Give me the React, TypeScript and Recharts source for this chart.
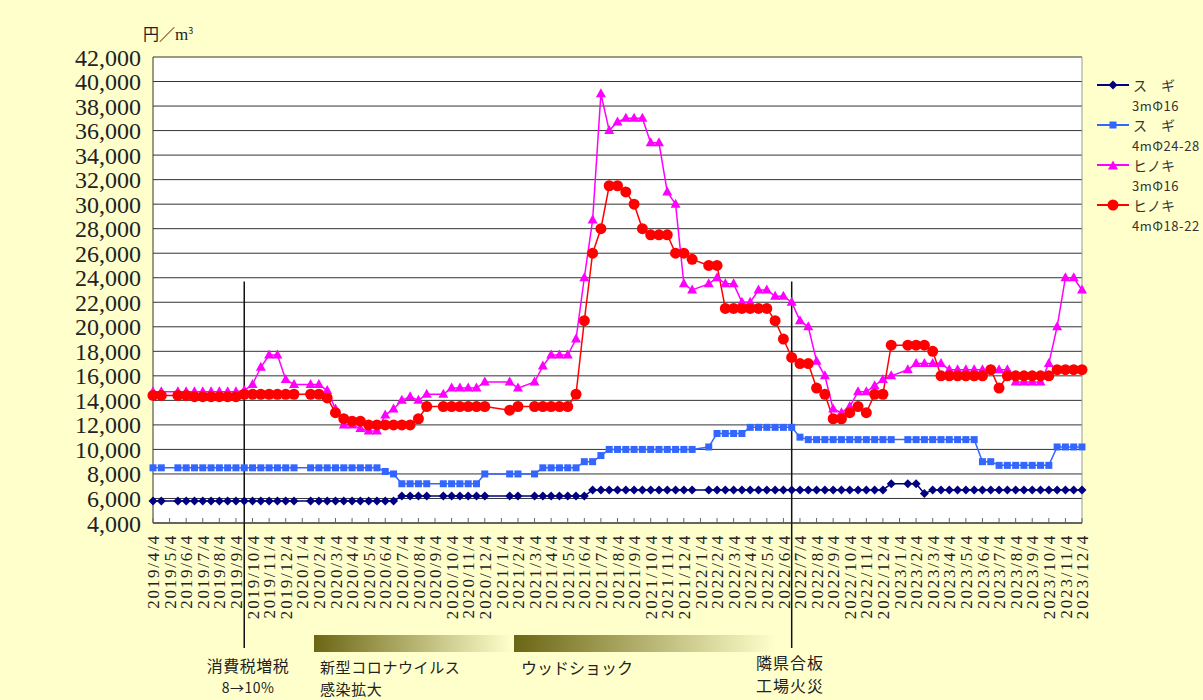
import React from "react";
import { LineChart, Line, XAxis, YAxis, CartesianGrid, ReferenceLine } from "recharts";

// 調査日（上旬・下旬）
const surveyDates = [
  // 2019
  "2019/4/4", "2019/4/19", "2019/5/19", "2019/6/4", "2019/6/19", "2019/7/4", "2019/7/19", "2019/8/4", "2019/8/19",
  "2019/9/4", "2019/9/19", "2019/10/4", "2019/10/19", "2019/11/4", "2019/11/19", "2019/12/4", "2019/12/19",
  // 2020
  "2020/1/19", "2020/2/4", "2020/2/19", "2020/3/4", "2020/3/19", "2020/4/4", "2020/4/19", "2020/5/4", "2020/5/19",
  "2020/6/4", "2020/6/19", "2020/7/4", "2020/7/19", "2020/8/4", "2020/8/19", "2020/9/19", "2020/10/4", "2020/10/19",
  "2020/11/4", "2020/11/19", "2020/12/4",
  // 2021
  "2021/1/19", "2021/2/4", "2021/3/4", "2021/3/19", "2021/4/4", "2021/4/19", "2021/5/4", "2021/5/19", "2021/6/4",
  "2021/6/19", "2021/7/4", "2021/7/19", "2021/8/4", "2021/8/19", "2021/9/4", "2021/9/19", "2021/10/4", "2021/10/19",
  "2021/11/4", "2021/11/19", "2021/12/4", "2021/12/19",
  // 2022
  "2022/1/19", "2022/2/4", "2022/2/19", "2022/3/4", "2022/3/19", "2022/4/4", "2022/4/19", "2022/5/4", "2022/5/19",
  "2022/6/4", "2022/6/19", "2022/7/4", "2022/7/19", "2022/8/4", "2022/8/19", "2022/9/4", "2022/9/19", "2022/10/4",
  "2022/10/19", "2022/11/4", "2022/11/19", "2022/12/4", "2022/12/19",
  // 2023
  "2023/1/19", "2023/2/4", "2023/2/19", "2023/3/4", "2023/3/19", "2023/4/4", "2023/4/19", "2023/5/4", "2023/5/19",
  "2023/6/4", "2023/6/19", "2023/7/4", "2023/7/19", "2023/8/4", "2023/8/19", "2023/9/4", "2023/9/19", "2023/10/4",
  "2023/10/19", "2023/11/4", "2023/11/19", "2023/12/4",
];

// スギ 3m Φ16
const sugi3m = [
  5800, 5800, 5800, 5800, 5800, 5800, 5800, 5800, 5800, 5800, 5800, 5800, 5800, 5800, 5800, 5800, 5800,
  5800, 5800, 5800, 5800, 5800, 5800, 5800, 5800, 5800, 5800, 5800, 6200, 6200, 6200, 6200, 6200, 6200, 6200,
  6200, 6200, 6200,
  6200, 6200, 6200, 6200, 6200, 6200, 6200, 6200, 6200, 6700, 6700, 6700, 6700, 6700, 6700, 6700, 6700, 6700,
  6700, 6700, 6700, 6700,
  6700, 6700, 6700, 6700, 6700, 6700, 6700, 6700, 6700, 6700, 6700, 6700, 6700, 6700, 6700, 6700, 6700, 6700,
  6700, 6700, 6700, 6700, 7200,
  7200, 7200, 6400, 6700, 6700, 6700, 6700, 6700, 6700, 6700, 6700, 6700, 6700, 6700, 6700, 6700, 6700, 6700,
  6700, 6700, 6700, 6700,
];

// スギ 4m Φ24-28
const sugi4m = [
  8500, 8500, 8500, 8500, 8500, 8500, 8500, 8500, 8500, 8500, 8500, 8500, 8500, 8500, 8500, 8500, 8500,
  8500, 8500, 8500, 8500, 8500, 8500, 8500, 8500, 8500, 8200, 8000, 7200, 7200, 7200, 7200, 7200, 7200, 7200,
  7200, 7200, 8000,
  8000, 8000, 8000, 8500, 8500, 8500, 8500, 8500, 9000, 9000, 9500, 10000, 10000, 10000, 10000, 10000, 10000,
  10000, 10000, 10000, 10000, 10000,
  10200, 11300, 11300, 11300, 11300, 11800, 11800, 11800, 11800, 11800, 11800, 11000, 10800, 10800, 10800,
  10800, 10800, 10800, 10800, 10800, 10800, 10800, 10800,
  10800, 10800, 10800, 10800, 10800, 10800, 10800, 10800, 10800, 9000, 9000, 8700, 8700, 8700, 8700, 8700,
  8700, 8700, 10200, 10200, 10200, 10200,
];

// ヒノキ 3m Φ16
const hinoki3m = [
  14700, 14700, 14700, 14700, 14700, 14700, 14700, 14700, 14700, 14700, 14800, 15300, 16700, 17700, 17700,
  15700, 15300,
  15300, 15300, 14800, 13300, 12000, 12000, 11700, 11500, 11500, 12800, 13300, 14000, 14300, 14000, 14500,
  14500, 15000, 15000, 15000, 15000, 15500,
  15500, 15000, 15500, 16800, 17700, 17700, 17700, 19000, 24000, 28700, 39000, 36000, 36700, 37000, 37000,
  37000, 35000, 35000, 31000, 30000, 23500, 23000,
  23500, 24000, 23500, 23500, 22000, 22000, 23000, 23000, 22500, 22500, 22000, 20500, 20000, 17200, 16000,
  13300, 13000, 13500, 14700, 14700, 15200, 15700, 16000,
  16500, 17000, 17000, 17000, 17000, 16500, 16500, 16500, 16500, 16500, 16500, 16500, 16500, 15500, 15500,
  15500, 15500, 17000, 20000, 24000, 24000, 23000,
];

// ヒノキ 4m Φ18-22
const hinoki4m = [
  14400, 14400, 14400, 14400, 14300, 14300, 14300, 14300, 14300, 14300, 14500, 14500, 14500, 14500, 14500,
  14500, 14500,
  14500, 14500, 14200, 13000, 12500, 12300, 12300, 12000, 12000, 12000, 12000, 12000, 12000, 12500, 13500,
  13500, 13500, 13500, 13500, 13500, 13500,
  13200, 13500, 13500, 13500, 13500, 13500, 13500, 14500, 20500, 26000, 28000, 31500, 31500, 31000, 30000,
  28000, 27500, 27500, 27500, 26000, 26000, 25500,
  25000, 25000, 21500, 21500, 21500, 21500, 21500, 21500, 20500, 19000, 17500, 17000, 17000, 15000, 14500,
  12500, 12500, 13000, 13500, 13000, 14500, 14500, 18500,
  18500, 18500, 18500, 18000, 16000, 16000, 16000, 16000, 16000, 16000, 16500, 15000, 16000, 16000, 16000,
  16000, 16000, 16000, 16500, 16500, 16500, 16500,
];

const yTicks = [4000, 6000, 8000, 10000, 12000, 14000, 16000, 18000, 20000, 22000, 24000, 26000, 28000, 30000,
  32000, 34000, 36000, 38000, 40000, 42000];

// 半月単位の位置 (2019/4/4 = 0)
const toSlot = (d: string) => {
  const [y, m, day] = d.split("/").map(Number);
  return (y - 2019) * 24 + (m - 4) * 2 + (day >= 15 ? 1 : 0);
};

const monthTicks: number[] = [];
for (let i = 0; i <= 112; i += 2) monthTicks.push(i);
const monthLabel = (slot: number) => {
  const k = slot / 2 + 3;
  return `${2019 + Math.floor(k / 12)}/${(k % 12) + 1}/4`;
};

const data = surveyDates.map((d, i) => ({
  x: toSlot(d),
  sugi3m: sugi3m[i],
  sugi4m: sugi4m[i],
  hinoki3m: hinoki3m[i],
  hinoki4m: hinoki4m[i],
}));

const NAVY = "#000080";
const BLUE = "#3366FF";
const PINK = "#FF00FF";
const RED = "#FF0000";

const Diamond = ({ cx, cy, fill }: any) => (
  <polygon points={`${cx},${cy - 4.5} ${cx + 4.5},${cy} ${cx},${cy + 4.5} ${cx - 4.5},${cy}`} fill={fill} />
);
const Square = ({ cx, cy, fill }: any) => <rect x={cx - 3.5} y={cy - 3.5} width={7} height={7} fill={fill} />;
const Triangle = ({ cx, cy, fill }: any) => (
  <polygon points={`${cx},${cy - 5.5} ${cx + 5},${cy + 3.5} ${cx - 5},${cy + 3.5}`} fill={fill} />
);
const Circle = ({ cx, cy, fill }: any) => <circle cx={cx} cy={cy} r={5.5} fill={fill} />;

const dotFor = (Shape: any, color: string) => (p: any) => (
  <Shape key={`dot-${p.index}`} cx={p.cx} cy={p.cy} fill={color} />
);

const MonthTick = ({ x, y, payload }: any) => (
  <g>
    <line x1={x} y1={y - 5} x2={x} y2={y} stroke="#666" />
    <text
      transform={`translate(${x},${y + 11}) rotate(-90)`}
      textAnchor="end"
      dy="0.36em"
      fontFamily="'Liberation Serif', serif"
      fontSize={17}
      letterSpacing={1.8}
      fill="#222"
    >
      {monthLabel(payload.value)}
    </text>
  </g>
);

const legendItems = [
  { name: "ス　ギ", spec: "3mΦ16", color: NAVY, shape: "diamond" },
  { name: "ス　ギ", spec: "4mΦ24-28", color: BLUE, shape: "square" },
  { name: "ヒノキ", spec: "3mΦ16", color: PINK, shape: "triangle" },
  { name: "ヒノキ", spec: "4mΦ18-22", color: RED, shape: "circle" },
];

const LegendMark = ({ shape, color }: { shape: string; color: string }) => (
  <svg width={34} height={14} style={{ display: "block" }}>
    <line x1={1} y1={7} x2={33} y2={7} stroke={color} strokeWidth={2} />
    {shape === "diamond" && <Diamond cx={17} cy={7} fill={color} />}
    {shape === "square" && <Square cx={17} cy={7} fill={color} />}
    {shape === "triangle" && <Triangle cx={17} cy={8} fill={color} />}
    {shape === "circle" && <Circle cx={17} cy={7} fill={color} />}
  </svg>
);

const jp = "'Noto Sans CJK JP', sans-serif";

const abs = (left: number, top: number, extra: React.CSSProperties = {}): React.CSSProperties => ({
  position: "absolute",
  left,
  top,
  whiteSpace: "nowrap",
  ...extra,
});

// center: 文字の中心 y
const note = (left: number, center: number, size: number, extra: React.CSSProperties = {}) =>
  abs(left, center - size / 2, { fontFamily: jp, fontSize: size, lineHeight: `${size}px`, color: "#222", ...extra });

export default function App() {
  return (
    <div style={{ position: "absolute", left: 0, top: 0, width: 1203, height: 700, background: "#FFFFCC", overflow: "hidden" }}>
      <LineChart width={1203} height={700} data={data} margin={{ top: 57, right: 121, bottom: 0, left: 0 }}>
        <CartesianGrid vertical={false} stroke="#333" fill="#fff" />
        <XAxis
          dataKey="x"
          type="number"
          domain={[0, 112]}
          ticks={monthTicks}
          interval={0}
          height={177}
          tickSize={0}
          tickMargin={0}
          tickLine={false}
          axisLine={{ stroke: "#333" }}
          tick={<MonthTick />}
        />
        <YAxis
          type="number"
          domain={[4000, 42000]}
          ticks={yTicks}
          interval={0}
          width={153}
          tickSize={0}
          tickMargin={12}
          tickLine={false}
          axisLine={{ stroke: "#333" }}
          tickFormatter={(v: number) => v.toLocaleString("en-US")}
          tick={{ fontSize: 24, fontFamily: "'Liberation Serif', serif", fill: "#222" }}
        />
        <ReferenceLine x={112} stroke="#999" />
        <ReferenceLine
          segment={[{ x: 11, y: 23700 }, { x: 11, y: -6200 }]}
          ifOverflow="visible"
          stroke="#111"
          strokeWidth={1.5}
        />
        <ReferenceLine
          segment={[{ x: 77, y: 23700 }, { x: 77, y: -6200 }]}
          ifOverflow="visible"
          stroke="#111"
          strokeWidth={1.5}
        />
        <Line dataKey="sugi3m" stroke={NAVY} strokeWidth={1.5} dot={dotFor(Diamond, NAVY)} activeDot={false} isAnimationActive={false} />
        <Line dataKey="sugi4m" stroke={BLUE} strokeWidth={1.5} dot={dotFor(Square, BLUE)} activeDot={false} isAnimationActive={false} />
        <Line dataKey="hinoki3m" stroke={PINK} strokeWidth={1.5} dot={dotFor(Triangle, PINK)} activeDot={false} isAnimationActive={false} />
        <Line dataKey="hinoki4m" stroke={RED} strokeWidth={1.5} dot={dotFor(Circle, RED)} activeDot={false} isAnimationActive={false} />
      </LineChart>

      {/* 単位 */}
      <div style={abs(143, 22, { fontFamily: "'Noto Sans CJK JP', 'Liberation Serif', serif", fontSize: 16, lineHeight: "18px", color: "#222" })}>
        円／<span style={{ fontFamily: "'Liberation Serif', serif", fontSize: 17 }}>m</span>
        <sup style={{ fontSize: 9 }}>3</sup>
      </div>

      {/* 凡例 */}
      {legendItems.map((it, i) => (
        <div key={i} style={abs(1096, 76 + i * 40, { fontFamily: jp, color: "#333" })}>
          <div style={{ display: "flex", alignItems: "center", height: 18 }}>
            <LegendMark shape={it.shape} color={it.color} />
            <span style={{ fontSize: 14, marginLeft: 3 }}>{it.name}</span>
          </div>
          <div style={{ fontSize: 13, marginLeft: 36, marginTop: 2, letterSpacing: 0.6 }}>{it.spec}</div>
        </div>
      ))}

      {/* 出来事 */}
      <div style={abs(314, 635, { width: 198, height: 17, background: "linear-gradient(to right, #6B6614, #FFFFCC)" })} />
      <div style={abs(514, 635, { width: 262, height: 17, background: "linear-gradient(to right, #6B6614, #FFFFCC)" })} />

      <div style={note(198, 665, 16, { width: 100, textAlign: "center", letterSpacing: 0.5 })}>消費税増税</div>
      <div style={note(198, 687, 14, { width: 100, textAlign: "center", letterSpacing: 0.5 })}>8→10%</div>
      <div style={note(320, 666, 15, { letterSpacing: 0.6 })}>新型コロナウイルス</div>
      <div style={note(320, 688, 15, { letterSpacing: 0.6 })}>感染拡大</div>
      <div style={note(521, 667, 16)}>ウッドショック</div>
      <div style={note(756, 662, 16, { letterSpacing: 1 })}>隣県合板</div>
      <div style={note(756, 685, 16, { letterSpacing: 1 })}>工場火災</div>
    </div>
  );
}
